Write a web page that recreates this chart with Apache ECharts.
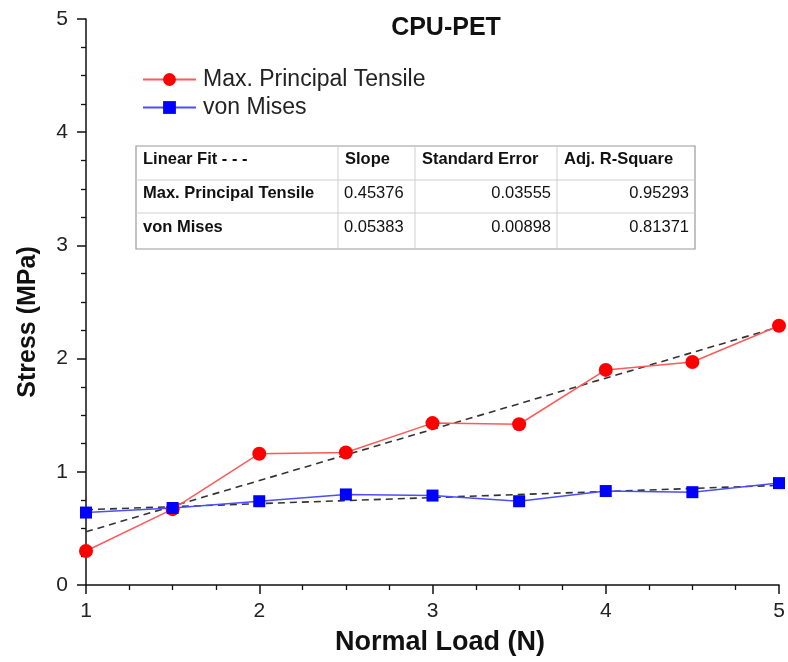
<!DOCTYPE html>
<html><head><meta charset="utf-8">
<script src="https://cdn.jsdelivr.net/npm/echarts@6/dist/echarts.min.js"></script>
<style>html,body{margin:0;padding:0;background:#fff}#c{width:788px;height:662px}</style>
</head><body><div id="c"></div>
<script>
const loads = [1, 1.5, 2, 2.5, 3, 3.5, 4, 4.5, 5];
const maxPrincipal = [0.30, 0.67, 1.16, 1.17, 1.43, 1.42, 1.90, 1.97, 2.29];
const vonMises = [0.64, 0.68, 0.74, 0.80, 0.79, 0.74, 0.83, 0.82, 0.90];
const fitX = [1, 5];
const maxPrincipalFit = [0.47, 2.28];
const vonMisesFit = [0.665, 0.88];
const tableHeader = ['Linear Fit - - -', 'Slope', 'Standard Error', 'Adj. R-Square'];
const tableRowNames = ['Max. Principal Tensile', 'von Mises'];
const tableSlope = ['0.45376', '0.05383'];
const tableStdErr = ['0.03555', '0.00898'];
const tableR2 = ['0.95293', '0.81371'];

const FONT = '"Liberation Sans", Arial, Helvetica, sans-serif';
const pair = (xs, ys) => xs.map((x, i) => [x, ys[i]]);

// table graphic
const colX = [136, 338, 415, 557, 695];
const rowY = [146, 180, 213, 249];
const g = [];
g.push({type:'rect', shape:{x:colX[0], y:rowY[0], width:colX[4]-colX[0], height:rowY[3]-rowY[0]},
  style:{fill:'#fff', stroke:'#9a9a9a', lineWidth:1.2}, z:50});
for (let i = 1; i < 4; i++) g.push({type:'line', shape:{x1:colX[i], y1:rowY[0], x2:colX[i], y2:rowY[3]}, style:{stroke:'#cfcfcf', lineWidth:1}, z:51});
for (let j = 1; j < 3; j++) g.push({type:'line', shape:{x1:colX[0], y1:rowY[j], x2:colX[4], y2:rowY[j]}, style:{stroke:'#cfcfcf', lineWidth:1}, z:51});
const txt = (s, x, y, bold, align) => g.push({type:'text', x, y, z:52,
  style:{text:s, font:(bold?'bold ':'')+'16.5px '+FONT, fill:'#111', textAlign:align||'left', textVerticalAlign:'middle'}});
tableHeader.forEach((h, i) => txt(h, colX[i]+7, 159, true));
const rowCY = [193, 227];
tableRowNames.forEach((n, r) => {
  txt(n, colX[0]+7, rowCY[r], true);
  txt(tableSlope[r], colX[1]+6, rowCY[r], false);
  txt(tableStdErr[r], colX[3]-6, rowCY[r], false, 'right');
  txt(tableR2[r], colX[4]-6, rowCY[r], false, 'right');
});
// axis titles
g.push({type:'text', x:440, y:643, z:10, style:{text:'Normal Load (N)', font:'bold 27px '+FONT, fill:'#111', textAlign:'center', textVerticalAlign:'middle'}});
g.push({type:'text', x:28, y:322, rotation:Math.PI/2, z:10, style:{text:'Stress (MPa)', font:'bold 25px '+FONT, fill:'#111', textAlign:'center', textVerticalAlign:'middle'}});

const chart = echarts.init(document.getElementById('c'));
const axisCommon = {
  axisLine:{show:true, onZero:false, lineStyle:{color:'#111', width:1.5}},
  axisTick:{show:true, inside:false, length:9, lineStyle:{color:'#111', width:1.5}},
  minorTick:{show:true, splitNumber:4, length:5, lineStyle:{color:'#111', width:1.3}},
  splitLine:{show:false},
  axisLabel:{fontSize:21, color:'#222', fontFamily:FONT}
};
chart.setOption({
  animation:false,
  backgroundColor:'#fff',
  title:{text:'CPU-PET', left:441, top:11, textAlign:'center', textStyle:{fontSize:25, fontWeight:'bold', color:'#111', fontFamily:FONT}},
  legend:{data:['Max. Principal Tensile','von Mises'], orient:'vertical', left:137, top:63, itemWidth:53, itemHeight:16, itemGap:5,
    textStyle:{fontSize:23, color:'#222', fontFamily:FONT, padding:[0,0,0,2]}},
  grid:{left:86, right:9, top:19, bottom:77, containLabel:false},
  xAxis:Object.assign({}, axisCommon, {type:'value', min:1, max:5, interval:1,
    axisLabel:Object.assign({}, axisCommon.axisLabel, {margin:16})}),
  yAxis:Object.assign({}, axisCommon, {type:'value', min:0, max:5, interval:1,
    axisLabel:Object.assign({}, axisCommon.axisLabel, {margin:18})}),
  graphic:g,
  series:[
    {name:'Max. Principal Tensile fit', type:'line', data:pair(fitX, maxPrincipalFit), symbol:'none',
      lineStyle:{color:'#333', width:1.6, type:[7,5]}, z:3},
    {name:'von Mises fit', type:'line', data:pair(fitX, vonMisesFit), symbol:'none',
      lineStyle:{color:'#333', width:1.6, type:[7,5]}, z:3},
    {name:'Max. Principal Tensile', type:'line', data:pair(loads, maxPrincipal), symbol:'circle', symbolSize:14,
      itemStyle:{color:'#ff0000'}, lineStyle:{color:'#ff5a5a', width:1.5}, z:4},
    {name:'von Mises', type:'line', data:pair(loads, vonMises), symbol:'rect', symbolSize:12,
      itemStyle:{color:'#0000ff'}, lineStyle:{color:'#4d4dff', width:1.5}, z:4}
  ]
});
</script></body></html>
